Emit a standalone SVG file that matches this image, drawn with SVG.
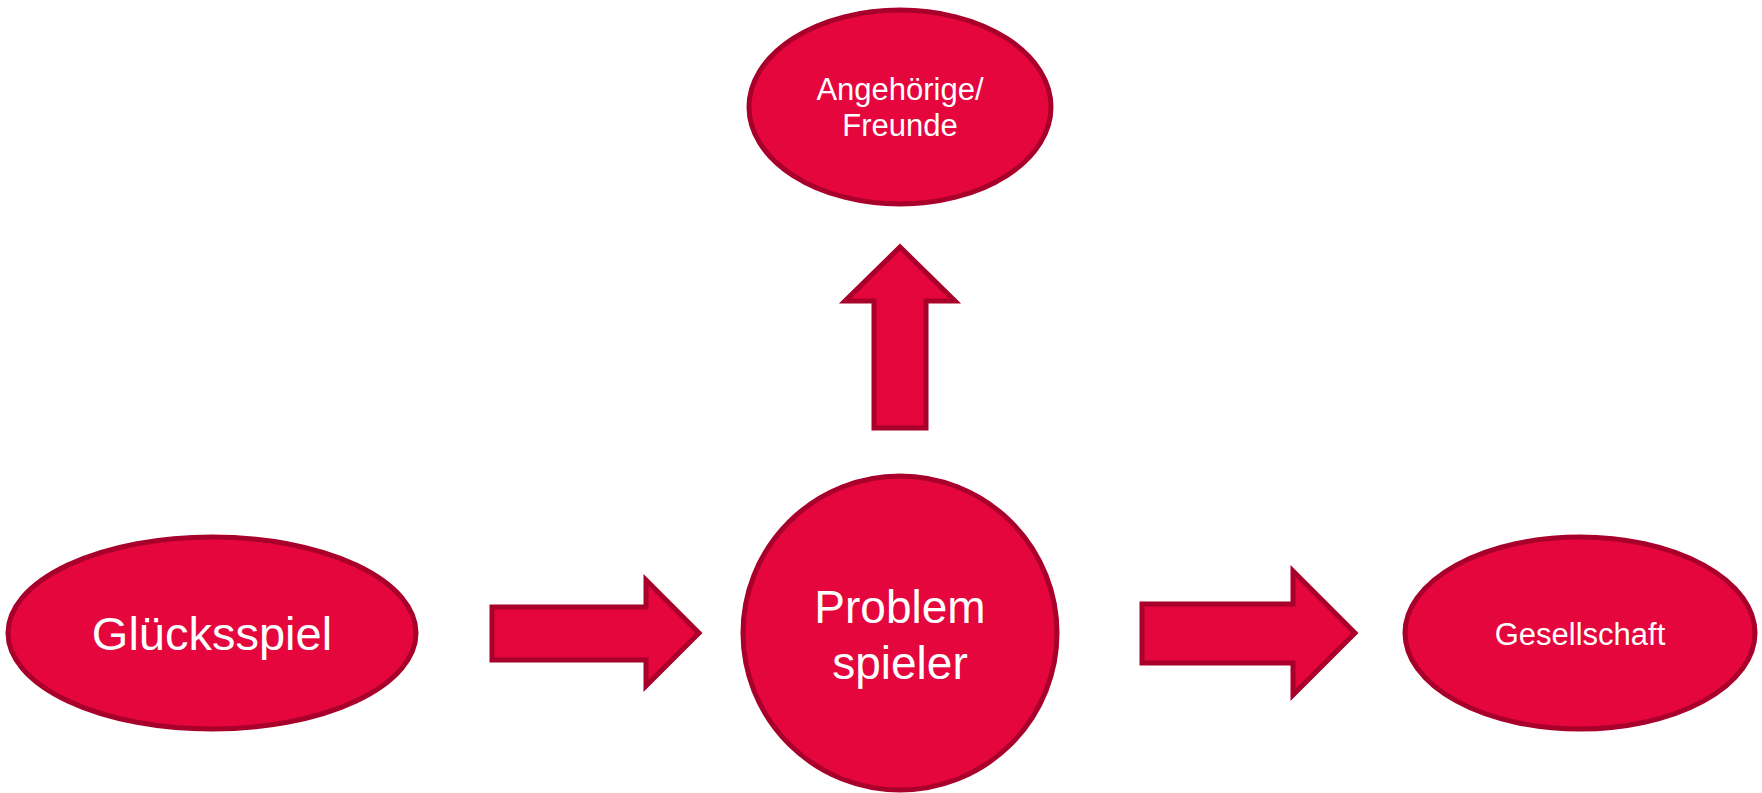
<svg xmlns="http://www.w3.org/2000/svg" width="1762" height="793" viewBox="0 0 1762 793">
<style>
.n{fill:#E4063D;stroke:#A8002B;stroke-width:5}
.t{fill:#FFFFFF;font-family:"Liberation Sans",Arial,sans-serif;text-anchor:middle}
</style>
<rect width="1762" height="793" fill="#FFFFFF"/>
<g id="connectors">
<polygon class="n" points="874,428 926,428 926,301 955,301 900,247 845,301 874,301"/>
<polygon class="n" points="492,607 646,607 646,580 699,633 646,686 646,660 492,660"/>
<polygon class="n" points="1142,604 1293,604 1293,571 1355,633 1293,695 1293,663 1142,663"/>
</g>
<g id="angehoerige">
<ellipse class="n" cx="900" cy="107" rx="151" ry="97"/>
<text class="t" x="900" y="100" font-size="31">Angehörige/</text>
<text class="t" x="900" y="136" font-size="31">Freunde</text>
</g>
<g id="problemspieler">
<circle class="n" cx="900" cy="633" r="157"/>
<text class="t" x="900" y="623" font-size="46">Problem</text>
<text class="t" x="900" y="679" font-size="46">spieler</text>
</g>
<g id="gluecksspiel">
<ellipse class="n" cx="212" cy="633" rx="204" ry="96"/>
<text class="t" x="212" y="650" font-size="47">Glücksspiel</text>
</g>
<g id="gesellschaft">
<ellipse class="n" cx="1580" cy="633" rx="175" ry="96"/>
<text class="t" x="1580" y="645" font-size="31">Gesellschaft</text>
</g>
</svg>
